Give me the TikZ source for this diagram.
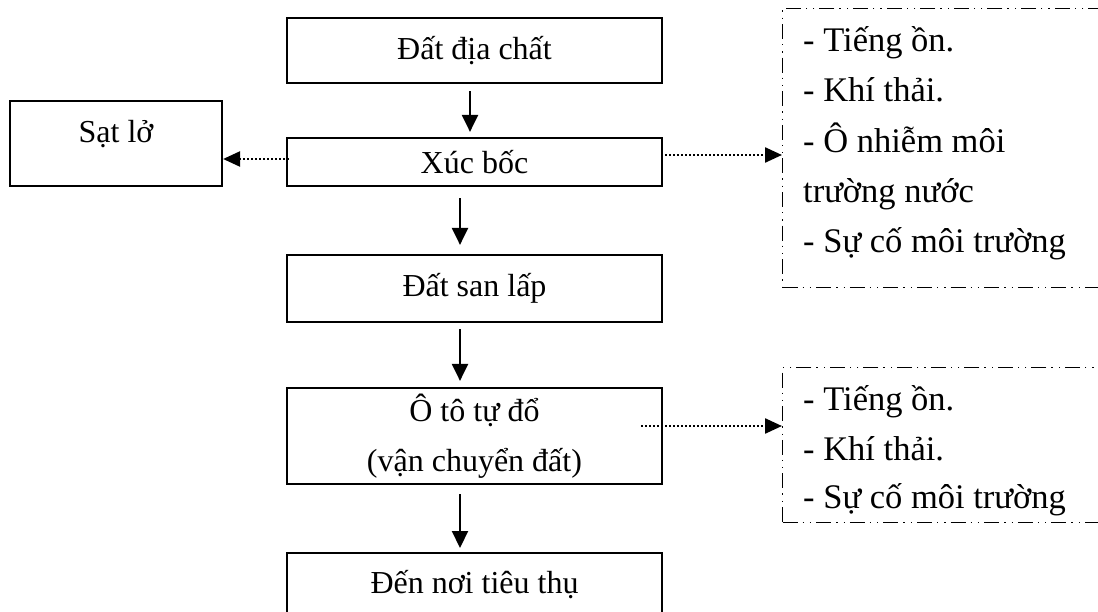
\documentclass[tikz,border=0pt]{standalone}
\usepackage{fontspec}
\setmainfont{Liberation Serif}
\usetikzlibrary{arrows.meta}
\begin{document}
\begin{tikzpicture}[x=1pt,y=-1pt,
  every node/.style={font=\fontsize{32}{50}\selectfont},
  stage/.style={draw, line width=2.2pt, minimum width=375pt, inner sep=0pt, align=center},
  impact/.style={draw, line width=1.3pt, inner sep=0pt, anchor=north west,
    dash pattern=on 15pt off 5pt on 1.3pt off 6pt on 1.3pt off 5pt},
  flow/.style={-{Triangle[length=17pt,width=16pt]}, line width=2.2pt},
  side/.style={-{Triangle[length=17pt,width=15pt]}, line width=2.4pt, dash pattern=on 2pt off 2pt},
  item/.style={anchor=base west, inner sep=0pt, font=\fontsize{34.5}{50}\selectfont}
]
\useasboundingbox (0,0) rectangle (1098,612);
\clip (0,0) rectangle (1098,612);

% main process chain
\node[stage, minimum height=65pt] (geo) at (474.5,50.5) {Đất địa chất};
\node[stage, minimum height=48pt] (dig) at (474.5,162) {Xúc bốc};
\node[stage, minimum height=67pt] (fill) at (474.5,288.5) {Đất san lấp};
\node[stage, minimum height=96pt] (truck) at (474.5,436) {Ô tô tự đổ\\(vận chuyển đất)};
\node[stage, minimum height=62pt, anchor=north] (use) at (474.5,552) {Đến nơi tiêu thụ};

% landslide risk
\node[stage, minimum width=212pt, minimum height=85pt] (slide) at (116,143.5) {};
\node[anchor=base, inner sep=0pt] (slidetext) at (116,143) {Sạt lở};

% environmental impacts
\node[impact, minimum width=340pt, minimum height=279pt] (imp1) at (782,8) {};
\node[item] (i1a) at (803,52) {- Tiếng ồn.};
\node[item] (i1b) at (803,102) {- Khí thải.};
\node[item] (i1c) at (803,153) {- Ô nhiễm môi};
\node[item] (i1d) at (803,203) {trường nước};
\node[item] (i1e) at (803,253) {- Sự cố môi trường};

\node[impact, minimum width=340pt, minimum height=155pt] (imp2) at (782,367) {};
\node[item] (i2a) at (803,410) {- Tiếng ồn.};
\node[item] (i2b) at (803,460) {- Khí thải.};
\node[item] (i2c) at (803,508) {- Sự cố môi trường};

% flow arrows
\draw[flow, shorten <=7pt, shorten >=5pt] ([xshift=-4.5pt]geo.south) -- ([xshift=-4.5pt]dig.north);
\draw[flow, shorten <=11pt, shorten >=9pt] ([xshift=-14.5pt]dig.south) -- ([xshift=-14.5pt]fill.north);
\draw[flow, shorten <=6pt, shorten >=6pt] ([xshift=-14.5pt]fill.south) -- ([xshift=-14.5pt]truck.north);
\draw[flow, shorten <=9pt, shorten >=4pt] ([xshift=-14.5pt]truck.south) -- ([xshift=-14.5pt]use.north);

% side effects
\coordinate (dl) at ([xshift=3pt,yshift=3pt]dig.west);
\draw[side] (dl) -- (dl -| slide.east);
\coordinate (dr) at ([xshift=2pt,yshift=7pt]dig.east);
\draw[side] (dr) -- (dr -| imp1.west);
\coordinate (tr) at ([xshift=-22pt,yshift=10pt]truck.east);
\draw[side] (tr) -- (tr -| imp2.west);
\end{tikzpicture}
\end{document}
